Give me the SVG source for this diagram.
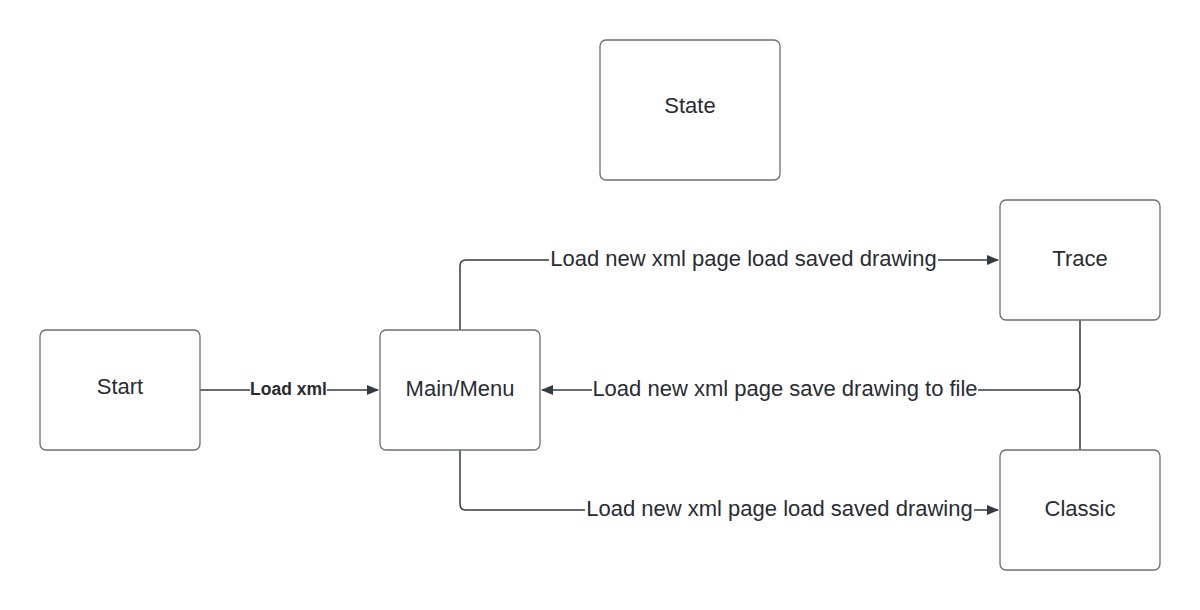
<svg xmlns="http://www.w3.org/2000/svg" width="1200" height="610" viewBox="0 0 1200 610">
<defs>
<marker id="arr" markerWidth="12" markerHeight="10" refX="11" refY="5" orient="auto" markerUnits="userSpaceOnUse">
<path d="M0,0 L12,5 L0,10 Z" fill="#333a44"/>
</marker>
<style>
.node rect{fill:#fff;stroke:#6b6f78;stroke-width:1.3}
.node text{font-family:"Liberation Sans",Arial,sans-serif;font-size:22px;fill:#282c33;text-anchor:middle}
.edge{fill:none;stroke:#333a44;stroke-width:1.5}
.lbl{font-family:"Liberation Sans",Arial,sans-serif;font-size:22px;fill:#282c33;text-anchor:middle}
.bg{fill:#fff}
</style>
</defs>
<rect width="1200" height="610" fill="#fff"/>
<g id="connectors">
<path class="edge" d="M195,390 L378,390" marker-end="url(#arr)"/>
<path class="edge" d="M460,330 L460,266 Q460,260 466,260 L998,260" marker-end="url(#arr)"/>
<path class="edge" d="M460,450 L460,504 Q460,510 466,510 L998,510" marker-end="url(#arr)"/>
<path class="edge" d="M1080,320 L1080,384 A4,6 0 0 1 1076,390 A4,6 0 0 1 1080,396 L1080,450"/>
<path class="edge" d="M1076,390 L542,390" marker-end="url(#arr)"/>
<rect class="bg" x="250" y="378" width="77" height="22"/>
<text x="288.5" y="395" class="lbl" style="font-weight:bold;font-size:17.5px">Load xml</text>
<rect class="bg" x="549" y="246" width="389" height="26"/>
<text x="743.5" y="266" class="lbl">Load new xml page load saved drawing</text>
<rect class="bg" x="592" y="376" width="386" height="26"/>
<text x="785" y="396" class="lbl">Load new xml page save drawing to file</text>
<rect class="bg" x="585" y="496" width="389" height="26"/>
<text x="779.5" y="516" class="lbl">Load new xml page load saved drawing</text>
</g>
<g id="start" class="node"><rect x="40" y="330" width="160" height="120" rx="6"/><text x="120" y="394">Start</text></g>
<g id="main" class="node"><rect x="380" y="330" width="160" height="120" rx="6"/><text x="460" y="396">Main/Menu</text></g>
<g id="state" class="node"><rect x="600" y="40" width="180" height="140" rx="6"/><text x="690" y="113">State</text></g>
<g id="trace" class="node"><rect x="1000" y="200" width="160" height="120" rx="6"/><text x="1080" y="266">Trace</text></g>
<g id="classic" class="node"><rect x="1000" y="450" width="160" height="120" rx="6"/><text x="1080" y="516">Classic</text></g>
</svg>
